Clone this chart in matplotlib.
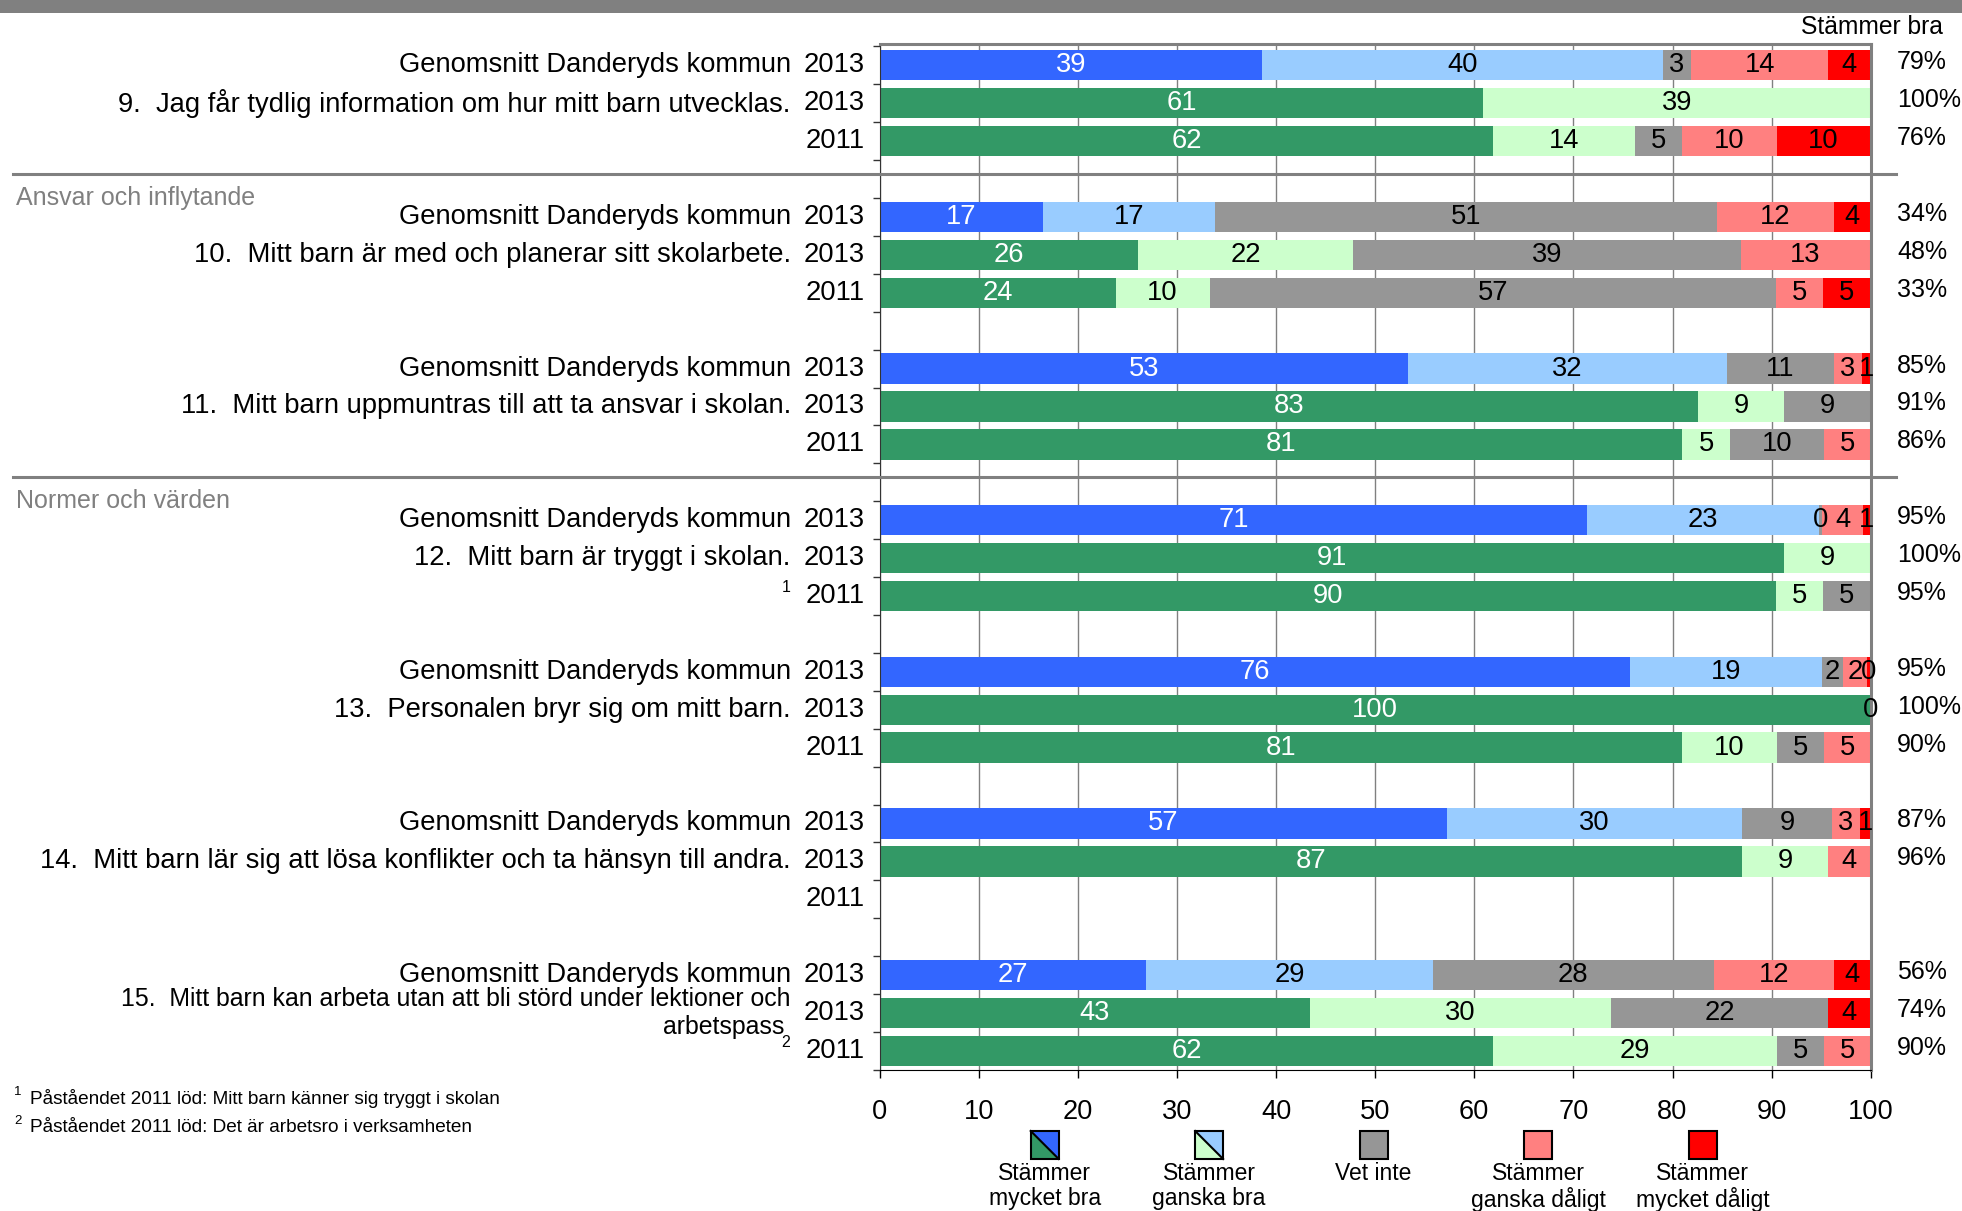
import numpy as np
import matplotlib
matplotlib.use("Agg")
import matplotlib.pyplot as plt
from matplotlib.patches import Rectangle, Polygon
from matplotlib.transforms import blended_transform_factory

plt.rcParams['font.family'] = ['Liberation Sans', 'DejaVu Sans']

nan = np.nan

# ---------------- data ----------------
questions = [
    "9.  Jag får tydlig information om hur mitt barn utvecklas.",
    "10.  Mitt barn är med och planerar sitt skolarbete.",
    "11.  Mitt barn uppmuntras till att ta ansvar i skolan.",
    "12.  Mitt barn är tryggt i skolan.",
    "13.  Personalen bryr sig om mitt barn.",
    "14.  Mitt barn lär sig att lösa konflikter och ta hänsyn till andra.",
    "15.  Mitt barn kan arbeta utan att bli störd under lektioner och\narbetspass ",
]
avg_label = "Genomsnitt Danderyds kommun"
row_years = ["2013", "2013", "2011"]
sections = {1: "Ansvar och inflytande", 3: "Normer och värden"}
footnote_marks = {11: "1", 20: "2"}   # row index -> superscript
footnotes = ["Påståendet 2011 löd: Mitt barn känner sig tryggt i skolan",
             "Påståendet 2011 löd: Det är arbetsro i verksamheten"]

# rows: per question [Genomsnitt 2013, skolan 2013, skolan 2011]
seg_mycket_bra = [38.6, 60.9, 61.9, 16.5, 26.1, 23.8, 53.3, 82.6, 81.0, 71.4, 91.3, 90.4,
                  75.7, 100.0, 81.0, 57.2, 87.0, nan, 26.9, 43.4, 61.9]
seg_ganska_bra = [40.4, 39.1, 14.3, 17.3, 21.7, 9.5, 32.2, 8.7, 4.8, 23.4, 8.7, 4.8,
                  19.4, 0.0, 9.5, 29.8, 8.7, nan, 28.9, 30.4, 28.6]
seg_vet_inte = [2.9, nan, 4.8, 50.7, 39.1, 57.1, 10.8, 8.7, 9.5, 0.3, nan, 4.8,
                2.1, nan, 4.8, 9.1, nan, nan, 28.4, 21.9, 4.8]
seg_ganska_daligt = [13.8, nan, 9.5, 11.8, 13.0, 4.8, 2.8, nan, 4.8, 4.1, nan, nan,
                     2.4, nan, 4.8, 2.8, 4.3, nan, 12.1, nan, 4.8]
seg_mycket_daligt = [4.3, nan, 9.5, 3.7, nan, 4.8, 0.9, nan, nan, 0.8, nan, nan,
                     0.4, nan, nan, 1.1, nan, nan, 3.7, 4.3, nan]
stammer_bra = ["79%", "100%", "76%", "34%", "48%", "33%", "85%", "91%", "86%",
               "95%", "100%", "95%", "95%", "100%", "90%", "87%", "96%", "",
               "56%", "74%", "90%"]

legend_labels = ["Stämmer\nmycket bra", "Stämmer\nganska bra", "Vet inte",
                 "Stämmer\nganska dåligt", "Stämmer\nmycket dåligt"]

# ---------------- style ----------------
C_BLUE, C_LBLUE = "#3366FF", "#99CCFF"
C_GREEN, C_LGREEN = "#339966", "#CCFFCC"
C_GRAY, C_PINK, C_RED = "#969696", "#FF8080", "#FF0000"
FS_ROW = 19.7
FS_BAR = 19.7
FS_TICK = 19.6
FS_PCT = 18.0

W, H = 1962, 1211
fig = plt.figure(figsize=(W / 100, H / 100), dpi=100)
ax = fig.add_axes([879.7 / W, 1 - 1069.9 / H, (1870.7 - 879.7) / W, (1069.9 - 43.8) / H])

segments = [seg_mycket_bra, seg_ganska_bra, seg_vet_inte, seg_ganska_daligt, seg_mycket_daligt]
n_rows = len(seg_mycket_bra)
for i in range(n_rows):
    g, r = divmod(i, 3)
    y = g * 4 + r
    cols = [C_BLUE, C_LBLUE] if r == 0 else [C_GREEN, C_LGREEN]
    cols = cols + [C_GRAY, C_PINK, C_RED]
    left = 0.0
    for s, arr in enumerate(segments):
        v = arr[i]
        if np.isnan(v):
            continue
        ax.barh(y, v, left=left, height=0.8, color=cols[s], zorder=2, linewidth=0)
        tc = "white" if s == 0 else "black"
        ax.text(left + v / 2, y, str(int(v + 0.5)), ha="center", va="center",
                fontsize=FS_BAR, color=tc, zorder=3)
        left += v

ax.set_xlim(0, 100)
ax.set_ylim(26.434, -0.566)
ax.set_xticks(range(0, 101, 10))
ax.grid(axis="x", color="#808080", lw=1.0)
ax.set_axisbelow(True)
ax.set_yticks(np.arange(-0.5, 27, 1.0))
ax.set_yticklabels([])
ax.tick_params(axis="y", length=5, width=1, color="#333333")
ax.tick_params(axis="x", length=6, width=1, labelsize=FS_TICK, pad=15)
for sp in ["right", "top"]:
    ax.spines[sp].set_color("#808080")
    ax.spines[sp].set_linewidth(2.2)
ax.spines["left"].set_color("#333333")
ax.spines["bottom"].set_color("black")

# labels left of axes
tr = blended_transform_factory(fig.transFigure, ax.transData)
x_year = 864.6 / W
x_q = 790.8 / W
for g in range(len(questions)):
    for r in range(3):
        y = g * 4 + r
        fig.text(x_year, y, row_years[r], transform=tr, ha="right", va="center", fontsize=FS_ROW)
    fig.text(x_q, g * 4, avg_label, transform=tr, ha="right", va="center", fontsize=FS_ROW)
    multi = "\n" in questions[g]
    fig.text(x_q, g * 4 + 1, questions[g], transform=tr, ha="right", va="center",
             fontsize=17.9 if multi else FS_ROW, multialignment="right",
             linespacing=1.2)
for i, m in footnote_marks.items():
    g, r = divmod(i, 3)
    fig.text(786 / W, g * 4 + r - 0.22, m, transform=tr, ha="center", va="center", fontsize=11.5)

# percent column
for i in range(n_rows):
    g, r = divmod(i, 3)
    fig.text(1897 / W, g * 4 + r - 0.08, stammer_bra[i], transform=tr, ha="left",
             va="center", fontsize=FS_PCT)
fig.text(1943 / W, 1 - 27 / H, "Stämmer bra", ha="right", va="center", fontsize=17.7)

# separators and section headers
for g, name in sections.items():
    ysep = g * 4 - 1.13
    ax.plot([12.5 / W, 1896 / W], [ysep, ysep], transform=tr, color="#808080", lw=2.2,
            clip_on=False, zorder=5)
    fig.text(16 / W, g * 4 - 0.51, name, transform=tr, ha="left", va="center",
             fontsize=18, color="#808080")

# overlay for decorations (pixel coordinates)
ov = fig.add_axes([0, 0, 1, 1])
ov.set_xlim(0, W)
ov.set_ylim(H, 0)
ov.axis("off")
ov.add_patch(Rectangle((0, 0), W, 13, color="#808080", lw=0))

# legend
box = 28
for k, lab in enumerate(legend_labels):
    cx = 1044.7 + 164.45 * k
    x0, y0 = cx - box / 2, 1131
    if k < 2:
        lo, up = (C_GREEN, C_BLUE) if k == 0 else (C_LGREEN, C_LBLUE)
        ov.add_patch(Polygon([(x0, y0), (x0, y0 + box), (x0 + box, y0 + box)], closed=True,
                             facecolor=lo, edgecolor="none"))
        ov.add_patch(Polygon([(x0, y0), (x0 + box, y0), (x0 + box, y0 + box)], closed=True,
                             facecolor=up, edgecolor="none"))
        ov.plot([x0, x0 + box], [y0, y0 + box], color="black", lw=1.5)
        ov.add_patch(Rectangle((x0, y0), box, box, facecolor="none", edgecolor="black", lw=1.5))
    else:
        fc = [None, None, C_GRAY, C_PINK, C_RED][k]
        ov.add_patch(Rectangle((x0, y0), box, box, facecolor=fc, edgecolor="black", lw=1.5))
    ov.text(cx, 1162, lab, ha="center", va="top", fontsize=16.5, linespacing=1.12)

# footnotes
for j, ftxt in enumerate(footnotes):
    yy = 1098 + 29 * j
    ov.text(18, yy - 6, str(j + 1), ha="center", va="center", fontsize=9.5)
    ov.text(30, yy, ftxt, ha="left", va="center", fontsize=13.7)

fig.savefig("out.png", dpi=100)
